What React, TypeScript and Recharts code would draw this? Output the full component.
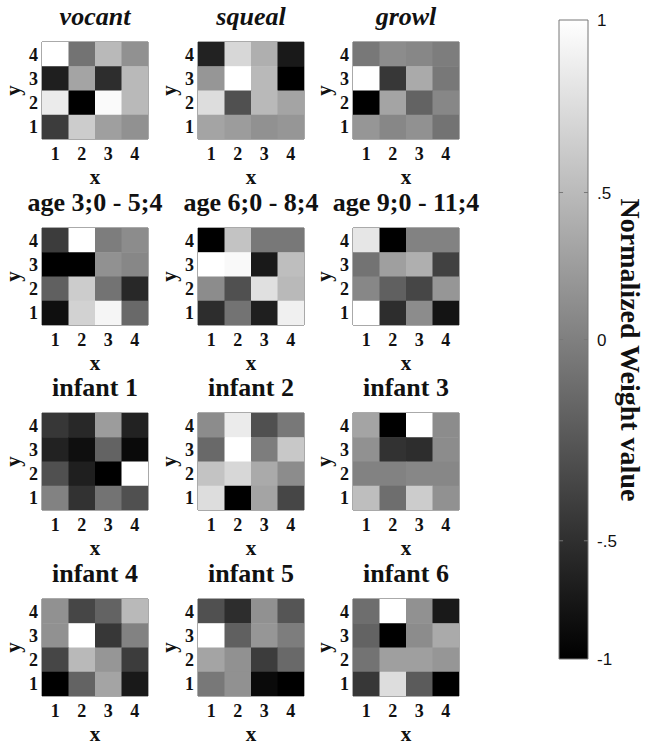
import React from "react";
import { ScatterChart, Scatter, XAxis, YAxis, ReferenceArea, ReferenceLine } from "recharts";

// grid positions; each matrix lists rows from y=4 (top) down to y=1
const xCats = [1, 2, 3, 4];
const yCats = [4, 3, 2, 1];

const vocant = [
  [1.0, -0.1, 0.45, 0.14],
  [-0.76, 0.29, -0.65, 0.45],
  [0.84, -1.0, 0.96, 0.45],
  [-0.53, 0.6, 0.25, 0.14],
];
const squeal = [
  [-0.73, 0.69, 0.37, -0.8],
  [0.18, 1.0, 0.45, -1.0],
  [0.73, -0.37, 0.45, 0.29],
  [0.29, 0.22, 0.14, 0.18],
];
const growl = [
  [-0.06, 0.1, 0.06, -0.02],
  [1.0, -0.57, 0.33, -0.06],
  [-1.0, 0.29, -0.22, 0.06],
  [0.18, 0.06, 0.14, -0.1],
];
const age3 = [
  [-0.53, 1.0, -0.02, 0.1],
  [-1.0, -1.0, 0.14, 0.06],
  [-0.25, 0.6, -0.1, -0.69],
  [-0.88, 0.65, 0.92, -0.18],
];
const age6 = [
  [-1.0, 0.53, -0.06, -0.06],
  [1.0, 0.95, -0.8, 0.49],
  [0.1, -0.37, 0.76, 0.45],
  [-0.65, -0.1, -0.76, 0.88],
];
const age9 = [
  [0.8, -1.0, 0.02, 0.02],
  [-0.1, 0.25, 0.37, -0.49],
  [0.06, -0.25, -0.45, 0.18],
  [1.0, -0.65, 0.1, -0.84],
];
const infant1 = [
  [-0.57, -0.69, 0.22, -0.73],
  [-0.73, -0.88, -0.22, -0.92],
  [-0.37, -0.76, -1.0, 1.0],
  [0.02, -0.61, -0.1, -0.37],
];
const infant2 = [
  [0.1, 0.84, -0.37, -0.06],
  [-0.18, 1.0, -0.02, 0.57],
  [0.53, 0.69, 0.33, 0.1],
  [0.73, -1.0, 0.29, -0.45],
];
const infant3 = [
  [0.29, -1.0, 1.0, 0.1],
  [0.14, -0.61, -0.65, 0.1],
  [0.02, 0.02, 0.06, 0.06],
  [0.49, -0.14, 0.6, 0.14],
];
const infant4 = [
  [0.14, -0.45, -0.22, 0.45],
  [0.14, 1.0, -0.57, 0.02],
  [-0.45, 0.45, 0.18, -0.53],
  [-1.0, -0.22, 0.29, -0.8],
];
const infant5 = [
  [-0.37, -0.65, 0.14, -0.33],
  [1.0, -0.25, 0.18, -0.02],
  [0.29, 0.14, -0.53, -0.18],
  [-0.06, 0.14, -0.92, -1.0],
];
const infant6 = [
  [-0.14, 1.0, 0.14, -0.8],
  [-0.22, -1.0, 0.1, 0.33],
  [-0.1, 0.25, 0.25, 0.18],
  [-0.57, 0.73, -0.29, -1.0],
];

const titles = [
  "vocant", "squeal", "growl",
  "age 3;0 - 5;4", "age 6;0 - 8;4", "age 9;0 - 11;4",
  "infant 1", "infant 2", "infant 3",
  "infant 4", "infant 5", "infant 6",
];
const matrices = [vocant, squeal, growl, age3, age6, age9, infant1, infant2, infant3, infant4, infant5, infant6];

// colorbar tick positions (spacing is uneven there)
const cbTicks = [-1, -0.63, 0, 0.46, 1];
const cbLabels = ["-1", "-.5", "0", ".5", "1"];

const colLeft = [42, 198, 353];
const rowTop = [42, 228, 413, 599];
const PW = 106;
const PH = 97;
const SERIF = "'Liberation Serif', 'Times New Roman', serif";

const gray = (v: number) => {
  const g = Math.round(((v + 1) / 2) * 255);
  return `rgb(${g},${g},${g})`;
};

const tickStyle = { fontSize: 18, fontWeight: 700, fill: "#111", fontFamily: SERIF };

function Panel({ title, grid, left, top, italic }: any) {
  const points = grid.flatMap((row: number[], r: number) =>
    row.map((v, c) => ({ x: xCats[c], y: yCats[r], v }))
  );
  const cw = PW / 4;
  const ch = PH / 4;
  return (
    <>
      <div
        style={{
          position: "absolute",
          left: left + PW / 2 - 110,
          width: 220,
          top: top - 38,
          textAlign: "center",
          fontFamily: SERIF,
          fontWeight: 700,
          fontStyle: italic ? "italic" : "normal",
          fontSize: 26,
          lineHeight: "26px",
          whiteSpace: "nowrap",
          color: "#111",
        }}
      >
        {title}
      </div>
      <div style={{ position: "absolute", left: left - 44, top: top - 2 }}>
        <ScatterChart width={162} height={153} margin={{ top: 2, right: 12, left: 16, bottom: 8 }}>
          <XAxis
            type="number"
            dataKey="x"
            domain={[0.5, 4.5]}
            ticks={xCats}
            interval={0}
            allowDataOverflow
            axisLine={false}
            tickLine={false}
            tickSize={8}
            tickMargin={0}
            height={46}
            tick={tickStyle}
            label={{ value: "x", position: "insideBottom", offset: 1, fontSize: 21, fontWeight: 700, fill: "#111", fontFamily: SERIF }}
          />
          <YAxis
            type="number"
            dataKey="y"
            domain={[0.5, 4.5]}
            ticks={xCats}
            interval={0}
            allowDataOverflow
            axisLine={false}
            tickLine={false}
            tickSize={4}
            tickMargin={0}
            width={28}
            tick={tickStyle}
            label={(p: any) => {
              const vb = p.viewBox || {};
              const cx = (vb.x ?? 16) - 1;
              const cy = (vb.y ?? 2) + (vb.height ?? PH) / 2;
              return (
                <text
                  x={cx}
                  y={cy}
                  transform={`rotate(-90 ${cx} ${cy})`}
                  textAnchor="middle"
                  dominantBaseline="central"
                  fontSize={21}
                  fontWeight={700}
                  fontFamily={SERIF}
                  fill="#111"
                >
                  y
                </text>
              );
            }}
          />
          <Scatter
            data={points}
            isAnimationActive={false}
            shape={(p: any) => (
              <rect
                x={p.cx - cw / 2}
                y={p.cy - ch / 2}
                width={cw + 0.5}
                height={ch + 0.5}
                fill={gray(p.payload.v)}
              />
            )}
          />
          <ReferenceArea x1={0.5} x2={4.5} y1={0.5} y2={4.5} fill="none" fillOpacity={0} stroke="#555" strokeWidth={1} />
          {xCats.map((t) => (
            <ReferenceLine key={"b" + t} segment={[{ x: t, y: 0.5 }, { x: t, y: 0.6 }]} stroke="#555" />
          ))}
          {xCats.map((t) => (
            <ReferenceLine key={"t" + t} segment={[{ x: t, y: 4.5 }, { x: t, y: 4.4 }]} stroke="#555" />
          ))}
          {xCats.map((t) => (
            <ReferenceLine key={"l" + t} segment={[{ x: 0.5, y: t }, { x: 0.6, y: t }]} stroke="#555" />
          ))}
          {xCats.map((t) => (
            <ReferenceLine key={"r" + t} segment={[{ x: 4.5, y: t }, { x: 4.4, y: t }]} stroke="#555" />
          ))}
        </ScatterChart>
      </div>
    </>
  );
}

function ColorBar() {
  const tickPts = cbTicks.map((t) => ({ x: 0.5, y: t }));
  return (
    <>
      <div style={{ position: "absolute", left: 554, top: 10 }}>
        <ScatterChart width={80} height={659} margin={{ top: 10, bottom: 10, left: 5, right: 0 }}>
          <defs>
            <linearGradient id="cbGrad" x1="0" y1="0" x2="0" y2="1">
              <stop offset="0%" stopColor="#ffffff" />
              <stop offset="100%" stopColor="#000000" />
            </linearGradient>
          </defs>
          <XAxis type="number" dataKey="x" domain={[0, 1]} hide />
          <YAxis
            type="number"
            dataKey="y"
            orientation="right"
            domain={[-1, 1]}
            ticks={cbTicks}
            interval={0}
            width={46}
            axisLine={false}
            tickLine={false}
            tickSize={6}
            tickMargin={3}
            tickFormatter={(v: number) => cbLabels[cbTicks.indexOf(v)]}
            tick={{ fontSize: 17, fill: "#111", fontFamily: "'Liberation Sans', Arial, sans-serif" }}
          />
          <Scatter data={tickPts} isAnimationActive={false} shape={() => <g />} />
          <ReferenceArea x1={0} x2={1} y1={-1} y2={1} fill="url(#cbGrad)" fillOpacity={1} stroke="#777" />
          {cbTicks.slice(1, -1).map((t) => (
            <ReferenceLine key={"l" + t} segment={[{ x: 0, y: t }, { x: 0.14, y: t }]} stroke="#777" />
          ))}
          {cbTicks.slice(1, -1).map((t) => (
            <ReferenceLine key={"r" + t} segment={[{ x: 0.86, y: t }, { x: 1, y: t }]} stroke="#777" />
          ))}
        </ScatterChart>
      </div>
      <div
        style={{
          position: "absolute",
          left: 630,
          top: 350,
          transform: "translate(-50%, -50%) rotate(90deg)",
          fontFamily: SERIF,
          fontWeight: 700,
          fontSize: 28,
          whiteSpace: "nowrap",
          color: "#111",
        }}
      >
        Normalized Weight value
      </div>
    </>
  );
}

export default function App() {
  return (
    <div style={{ position: "absolute", left: 0, top: 0, width: 647, height: 745, background: "#fff" }}>
      {matrices.map((m, i) => (
        <Panel
          key={titles[i]}
          title={titles[i]}
          grid={m}
          left={colLeft[i % 3]}
          top={rowTop[Math.floor(i / 3)]}
          italic={i < 3}
        />
      ))}
      <ColorBar />
    </div>
  );
}
